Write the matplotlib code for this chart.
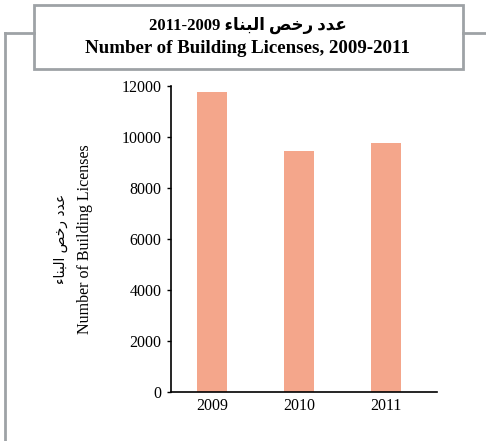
import matplotlib
matplotlib.use('Agg')
from matplotlib import pyplot as plt
from matplotlib.patches import Rectangle
from matplotlib.lines import Line2D

years = ['2009', '2010', '2011']
licenses = [11780, 9440, 9765]
yticks = [0, 2000, 4000, 6000, 8000, 10000, 12000]

# Arabic text pre-shaped (presentation forms, visual order)
AR_LABEL = '\ufe80\ufe8e\ufee8\ufe92\ufedf\ufe8d \ufeba\ufea7\ufead \ufea9\ufeaa\ufecb'
TITLE_AR = '2011-2009 ' + AR_LABEL
TITLE_EN = 'Number of Building Licenses, 2009-2011'
YLABEL_EN = 'Number of Building Licenses'

FONTS = ['Liberation Serif', 'DejaVu Sans']
BAR_COLOR = '#f4a68b'
FRAME_COLOR = '#9ea2a6'

plt.rcParams['font.family'] = FONTS

fig = plt.figure(figsize=(4.86, 4.41), dpi=100)
ax = fig.add_axes([0.3519, 0.1111, 0.5473, 0.6939])

x = list(range(len(years)))
ax.bar(x, licenses, width=0.345, color=BAR_COLOR)
ax.set_xlim(-0.467, 2.58)
ax.set_ylim(0, 12000)
ax.set_yticks(yticks)
ax.set_xticks(x)
ax.set_xticklabels(years)
ax.tick_params(axis='y', length=3, width=1, labelsize=11.5, pad=4)
ax.tick_params(axis='x', length=0, labelsize=11.5, pad=4)
for s in ['top', 'right']:
    ax.spines[s].set_visible(False)
for s in ['left', 'bottom']:
    ax.spines[s].set_linewidth(1.2)

# y labels (two lines, rotated)
fig.text(0.175, 0.458, YLABEL_EN, rotation=90, ha='center', va='center', fontsize=11.5)
fig.text(0.125, 0.458, AR_LABEL, rotation=90, ha='center', va='center', fontsize=10,
         family=['DejaVu Sans'])

# title box and frame lines
fig.add_artist(Rectangle((0.07, 0.8435), 0.8827, 0.1452, transform=fig.transFigure,
                         fill=False, edgecolor=FRAME_COLOR, linewidth=2))
fig.add_artist(Line2D([0.0103, 0.07], [0.925, 0.925], transform=fig.transFigure,
                      color=FRAME_COLOR, linewidth=2))
fig.add_artist(Line2D([0.0103, 0.0103], [0.925, 0.0], transform=fig.transFigure,
                      color=FRAME_COLOR, linewidth=2))
fig.add_artist(Line2D([0.9527, 1.0], [0.925, 0.925], transform=fig.transFigure,
                      color=FRAME_COLOR, linewidth=2))

fig.text(0.51, 0.943, TITLE_AR, ha='center', va='center', fontsize=12, fontweight='bold')
fig.text(0.51, 0.891, TITLE_EN, ha='center', va='center', fontsize=13.6, fontweight='bold')

fig.savefig('out.png', dpi=100)
